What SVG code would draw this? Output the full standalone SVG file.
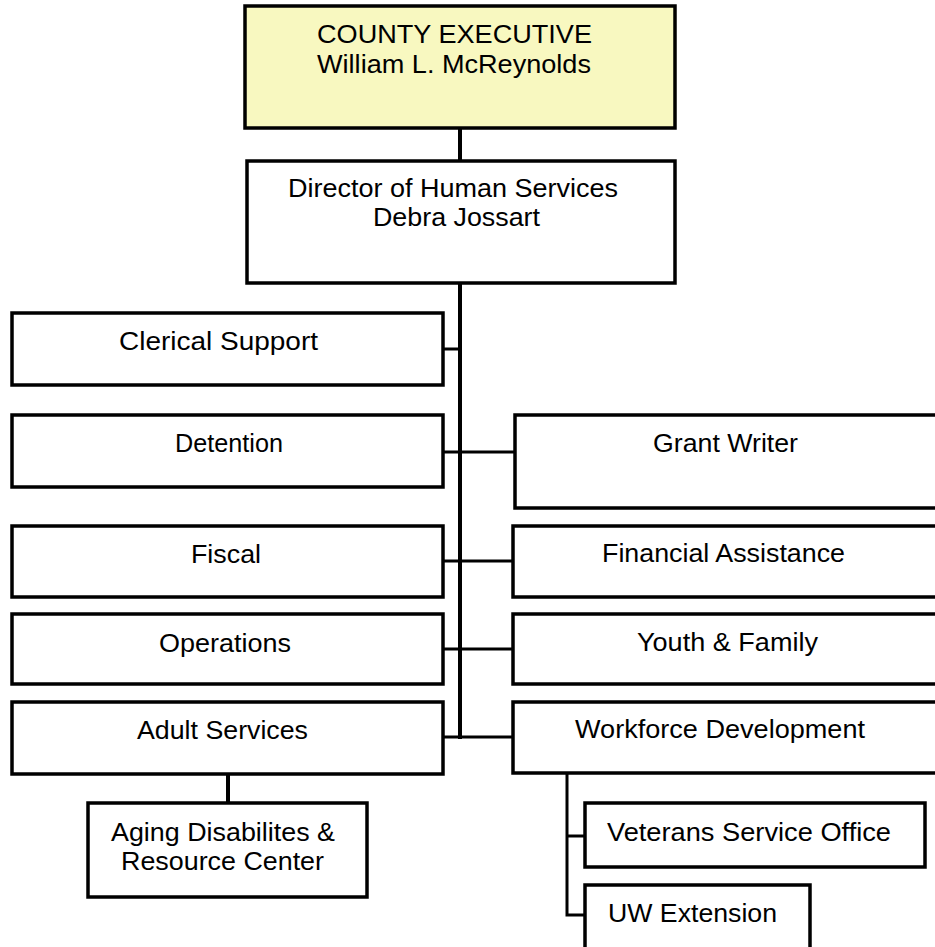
<svg xmlns="http://www.w3.org/2000/svg" width="935" height="947" viewBox="0 0 935 947">
  <style>
    .box { fill: #ffffff; stroke: #000000; stroke-width: 3.5; }
    .exec { fill: #f8f8c0; }
    .lbl { font-family: "Liberation Sans", Arial, sans-serif; font-size: 25px; fill: #000000; }
    .wire { fill: none; stroke: #000000; stroke-width: 3; }
    .trunk { stroke-width: 4; }
  </style>
  <rect width="935" height="947" fill="#ffffff"/>

  <g id="connectors">
    <path class="wire trunk" d="M460,128 V161"/>
    <path class="wire trunk" d="M460,283 V739"/>
    <path class="wire" d="M443,349 H460"/>
    <path class="wire" d="M443,452 H515"/>
    <path class="wire" d="M443,561 H513"/>
    <path class="wire" d="M443,649 H513"/>
    <path class="wire" d="M443,737 H513"/>
    <path class="wire trunk" d="M228,774 V803"/>
    <path class="wire" d="M567,773 V915 H585"/>
    <path class="wire" d="M567,836 H585"/>
  </g>

  <g id="county-executive">
    <rect class="box exec" x="245" y="6" width="430" height="122"/>
    <text class="lbl" x="317" y="43" textLength="275" lengthAdjust="spacingAndGlyphs">COUNTY EXECUTIVE</text>
    <text class="lbl" x="317" y="73" textLength="274" lengthAdjust="spacingAndGlyphs">William L. McReynolds</text>
  </g>

  <g id="director">
    <rect class="box" x="247" y="161" width="428" height="122"/>
    <text class="lbl" x="288" y="197" textLength="330" lengthAdjust="spacingAndGlyphs">Director of Human Services</text>
    <text class="lbl" x="373" y="226" textLength="167" lengthAdjust="spacingAndGlyphs">Debra Jossart</text>
  </g>

  <g id="clerical-support">
    <rect class="box" x="12" y="313" width="431" height="72"/>
    <text class="lbl" x="119" y="350" textLength="199" lengthAdjust="spacingAndGlyphs">Clerical Support</text>
  </g>

  <g id="detention">
    <rect class="box" x="12" y="415" width="431" height="72"/>
    <text class="lbl" x="175" y="452" textLength="108" lengthAdjust="spacingAndGlyphs">Detention</text>
  </g>

  <g id="fiscal">
    <rect class="box" x="12" y="526" width="431" height="71"/>
    <text class="lbl" x="191" y="563" textLength="70" lengthAdjust="spacingAndGlyphs">Fiscal</text>
  </g>

  <g id="operations">
    <rect class="box" x="12" y="614" width="431" height="70"/>
    <text class="lbl" x="159" y="652" textLength="132" lengthAdjust="spacingAndGlyphs">Operations</text>
  </g>

  <g id="adult-services">
    <rect class="box" x="12" y="702" width="431" height="72"/>
    <text class="lbl" x="137" y="739" textLength="171" lengthAdjust="spacingAndGlyphs">Adult Services</text>
  </g>

  <g id="grant-writer">
    <rect class="box" x="515" y="415" width="430" height="93"/>
    <text class="lbl" x="653" y="452" textLength="145" lengthAdjust="spacingAndGlyphs">Grant Writer</text>
  </g>

  <g id="financial-assistance">
    <rect class="box" x="513" y="526" width="432" height="71"/>
    <text class="lbl" x="602" y="562" textLength="243" lengthAdjust="spacingAndGlyphs">Financial Assistance</text>
  </g>

  <g id="youth-family">
    <rect class="box" x="513" y="614" width="432" height="70"/>
    <text class="lbl" x="637" y="651" textLength="181" lengthAdjust="spacingAndGlyphs">Youth &amp; Family</text>
  </g>

  <g id="workforce-development">
    <rect class="box" x="513" y="702" width="432" height="71"/>
    <text class="lbl" x="575" y="738" textLength="290" lengthAdjust="spacingAndGlyphs">Workforce Development</text>
  </g>

  <g id="aging-disabilities">
    <rect class="box" x="88" y="803" width="279" height="94"/>
    <text class="lbl" x="111" y="841" textLength="224" lengthAdjust="spacingAndGlyphs">Aging Disabilites &amp;</text>
    <text class="lbl" x="121" y="870" textLength="203" lengthAdjust="spacingAndGlyphs">Resource Center</text>
  </g>

  <g id="veterans-service-office">
    <rect class="box" x="585" y="803" width="340" height="64"/>
    <text class="lbl" x="607" y="841" textLength="284" lengthAdjust="spacingAndGlyphs">Veterans Service Office</text>
  </g>

  <g id="uw-extension">
    <rect class="box" x="585" y="885" width="225" height="80"/>
    <text class="lbl" x="608" y="922" textLength="169" lengthAdjust="spacingAndGlyphs">UW Extension</text>
  </g>
</svg>
